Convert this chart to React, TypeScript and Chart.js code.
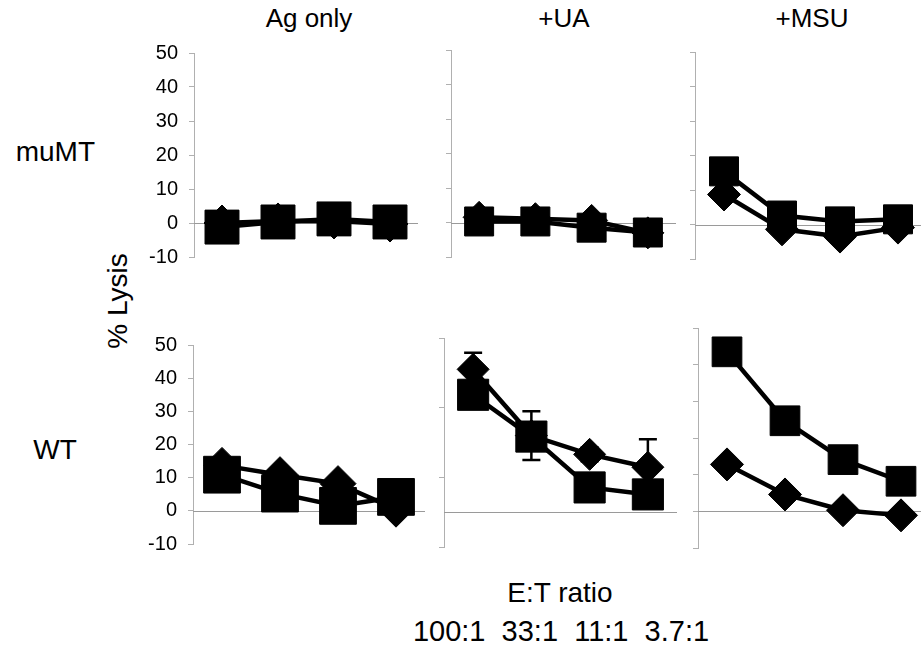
import React, { useEffect, useRef } from 'react';
import { Chart, registerables } from 'chart.js';
Chart.register(...registerables);

const categories = ['100:1', '33:1', '11:1', '3.7:1'];
const columnTitles = ['Ag only', '+UA', '+MSU'];
const rowTitles = ['muMT', 'WT'];
const xTickLabels = '100:1  33:1  11:1  3.7:1';

const muMT_AgOnly_diamond = [0, 0.6, 0.6, -0.3];
const muMT_AgOnly_square = [-1.2, 0.3, 1.2, 0.3];
const muMT_UA_diamond = [1.5, 1.1, 0.6, -3];
const muMT_UA_square = [0.3, 0.3, -1.5, -2.9];
const muMT_MSU_diamond = [8.7, -1.4, -3.5, -0.9];
const muMT_MSU_square = [15.4, 2.6, 0.9, 1.5];
const WT_AgOnly_diamond = [13.7, 10.9, 8.2, 0.5];
const WT_AgOnly_square = [10.9, 5.2, 1.5, 4.2];
const WT_UA_diamond = [41, 22, 16.6, 12.9];
const WT_UA_diamond_err = [4.8, 7, 2, 8];
const WT_UA_square = [33.7, 21.7, 7.1, 5.1];
const WT_MSU_diamond = [12.8, 4.6, 0.3, -1.1];
const WT_MSU_square = [43.5, 24.7, 14.1, 8.2];

const FONT = '"Liberation Sans", Arial, Helvetica, sans-serif';

type PanelCfg = {
  left: number; top: number; right: number; bottom: number;
  step: number; labels: boolean; sqR: number; diaR: number;
  diamond: number[]; square: number[]; errors?: number[];
};

const panels: PanelCfg[] = [
  { left: 194, top: 53, right: 418, bottom: 257, step: 10, labels: true, sqR: 24, diaR: 18, diamond: muMT_AgOnly_diamond, square: muMT_AgOnly_square },
  { left: 451, top: 50, right: 676, bottom: 257, step: 10, labels: false, sqR: 20.5, diaR: 16, diamond: muMT_UA_diamond, square: muMT_UA_square },
  { left: 695, top: 52, right: 927, bottom: 259, step: 10, labels: false, sqR: 20.5, diaR: 16.5, diamond: muMT_MSU_diamond, square: muMT_MSU_square },
  { left: 193, top: 345, right: 425, bottom: 544, step: 10, labels: true, sqR: 26, diaR: 18, diamond: WT_AgOnly_diamond, square: WT_AgOnly_square },
  { left: 444, top: 338, right: 677, bottom: 547, step: 20, labels: false, sqR: 22, diaR: 16, diamond: WT_UA_diamond, square: WT_UA_square, errors: WT_UA_diamond_err },
  { left: 698, top: 328, right: 930, bottom: 548, step: 10, labels: false, sqR: 21, diaR: 16.5, diamond: WT_MSU_diamond, square: WT_MSU_square },
];

const AX = 60, PT = 15, PB = 15, PR = 30;

const zeroLine = {
  id: 'zeroLine',
  beforeDatasetsDraw(chart: any) {
    const { ctx, chartArea, scales } = chart;
    const y = Math.round(scales.y.getPixelForValue(0)) + 0.5;
    ctx.save();
    ctx.strokeStyle = '#9a9a9a';
    ctx.lineWidth = 1;
    ctx.beginPath();
    ctx.moveTo(chartArea.left, y);
    ctx.lineTo(chartArea.right, y);
    ctx.stroke();
    ctx.restore();
  },
};

const errorBars = {
  id: 'errorBars',
  beforeDatasetsDraw(chart: any, _args: any, opts: any) {
    const errs: number[] | undefined = opts && opts.errors;
    if (!errs) return;
    const ds = chart.data.datasets[0].data as number[];
    const { ctx, scales } = chart;
    ctx.save();
    ctx.strokeStyle = '#000';
    ctx.lineWidth = 2.5;
    errs.forEach((e, i) => {
      if (!e) return;
      const x = scales.x.getPixelForValue(i);
      const y1 = scales.y.getPixelForValue(ds[i] + e);
      const y2 = scales.y.getPixelForValue(ds[i] - e);
      ctx.beginPath();
      ctx.moveTo(x, y1); ctx.lineTo(x, y2);
      ctx.moveTo(x - 9, y1); ctx.lineTo(x + 9, y1);
      ctx.moveTo(x - 9, y2); ctx.lineTo(x + 9, y2);
      ctx.stroke();
    });
    ctx.restore();
  },
};

function Panel({ cfg }: { cfg: PanelCfg }) {
  const ref = useRef<HTMLCanvasElement>(null);
  const w = cfg.right - cfg.left + AX + PR;
  const h = cfg.bottom - cfg.top + PT + PB;
  useEffect(() => {
    const common = {
      borderColor: '#000',
      borderWidth: 4.5,
      backgroundColor: '#000',
      pointBackgroundColor: '#000',
      pointBorderColor: '#000',
      pointBorderWidth: 1,
      tension: 0,
      clip: false as any,
    };
    const chart = new Chart(ref.current as HTMLCanvasElement, {
      type: 'line',
      data: {
        labels: categories,
        datasets: [
          { ...common, data: cfg.diamond, pointStyle: 'rectRot', pointRadius: cfg.diaR, pointHoverRadius: cfg.diaR },
          { ...common, data: cfg.square, pointStyle: 'rect', pointRadius: cfg.sqR, pointHoverRadius: cfg.sqR },
        ],
      },
      options: {
        responsive: false,
        animation: false,
        devicePixelRatio: 1,
        events: [],
        layout: { autoPadding: false, padding: { top: PT, bottom: PB, right: PR, left: 0 } },
        plugins: {
          legend: { display: false },
          tooltip: { enabled: false },
          errorBars: { errors: cfg.errors },
        } as any,
        scales: {
          x: { type: 'category', offset: true, display: false },
          y: {
            type: 'linear',
            min: -10,
            max: 50,
            afterFit: (s: any) => { s.width = AX; s.paddingTop = 0; s.paddingBottom = 0; },
            ticks: {
              stepSize: cfg.step,
              display: cfg.labels,
              padding: 11,
              color: '#000',
              font: { family: FONT, size: 20 },
            },
            grid: { drawOnChartArea: false, drawTicks: true, tickLength: 5, color: '#b0b0b0' },
            border: { display: true, color: '#b0b0b0', width: 1 },
          },
        },
      },
      plugins: [zeroLine, errorBars],
    });
    return () => chart.destroy();
  }, []);
  return (
    <canvas
      ref={ref}
      width={w}
      height={h}
      style={{ position: 'absolute', left: cfg.left - AX, top: cfg.top - PT, width: w, height: h }}
    />
  );
}

const txt = (extra: React.CSSProperties): React.CSSProperties => ({
  position: 'absolute',
  fontFamily: FONT,
  color: '#000',
  lineHeight: 1,
  whiteSpace: 'pre',
  ...extra,
});

export default function App() {
  const titleX = [309, 564, 812];
  return (
    <div style={{ position: 'absolute', left: 0, top: 0, width: 921, height: 650, overflow: 'hidden', background: '#fff' }}>
      {panels.map((p, i) => <Panel key={i} cfg={p} />)}
      {columnTitles.map((t, i) => (
        <div key={t} style={txt({ left: titleX[i] - 100, width: 200, textAlign: 'center', top: 5, fontSize: 26 })}>{t}</div>
      ))}
      <div style={txt({ left: 0, width: 95, textAlign: 'right', top: 138, fontSize: 28 })}>{rowTitles[0]}</div>
      <div style={txt({ left: 5, width: 100, textAlign: 'center', top: 436, fontSize: 28 })}>{rowTitles[1]}</div>
      <div style={txt({ left: 118 - 100, top: 301 - 14, width: 200, textAlign: 'center', fontSize: 28, transform: 'rotate(-90deg)', transformOrigin: '100px 14px' })}>% Lysis</div>
      <div style={txt({ left: 360, width: 400, textAlign: 'center', top: 579, fontSize: 28 })}>E:T ratio</div>
      <div style={txt({ left: 361, width: 400, textAlign: 'center', top: 617, fontSize: 29 })}>{xTickLabels}</div>
    </div>
  );
}
